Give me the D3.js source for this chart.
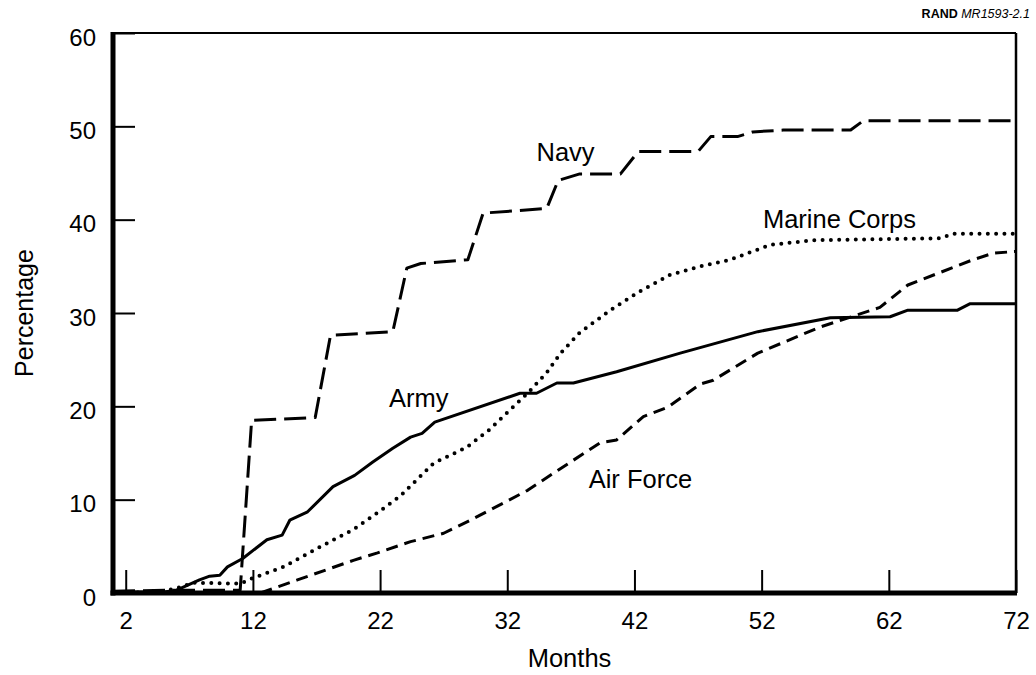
<!DOCTYPE html>
<html>
<head>
<meta charset="utf-8">
<script src="https://cdn.jsdelivr.net/npm/d3@7"></script>
<style>
  html, body { margin: 0; padding: 0; background: #fff; }
  svg { display: block; }
  text { font-family: "Liberation Sans", Arial, Helvetica, sans-serif; fill: #000; }
</style>
</head>
<body>
<svg id="chart" width="1036" height="675"></svg>
<script>
// Cumulative percentage by months of service, per branch: [month, percent]
const navy = [
  [1, 0.2], [6, 0.3], [11.0, 0.3], [11.9, 18.5], [16.9, 18.8], [18.1, 27.6],
  [23.0, 28.0], [24.1, 34.8], [25.2, 35.3], [28.9, 35.7], [30.1, 40.7],
  [35.1, 41.2], [36.0, 44.2], [37.7, 44.9], [40.9, 44.9], [42.3, 47.3],
  [47.0, 47.3], [48.0, 48.9], [50.1, 48.9], [51.3, 49.4], [53.7, 49.6],
  [59.0, 49.6], [60.0, 50.6], [72, 50.6]
];
const army = [
  [1, 0.1], [5, 0.1], [6.0, 0.3], [7.8, 1.4], [8.6, 1.8], [9.4, 1.9],
  [10.0, 2.8], [11.2, 3.7], [13.1, 5.7], [14.3, 6.2], [14.9, 7.8],
  [16.3, 8.7], [18.3, 11.4], [20.0, 12.6], [21.4, 14.0], [23.0, 15.5],
  [24.4, 16.7], [25.3, 17.1], [26.3, 18.3], [33.0, 21.4], [34.3, 21.4],
  [35.9, 22.5], [37.2, 22.5], [40.6, 23.7], [45.6, 25.7], [51.7, 28.0],
  [57.4, 29.5], [62.1, 29.6], [63.5, 30.3], [67.4, 30.3], [68.4, 31.0],
  [72, 31.0]
];
const marineCorps = [
  [1, 0], [4.5, 0.1], [6, 0.5], [7.3, 1.1], [11.0, 1.0], [12.0, 1.6],
  [14.4, 2.8], [17.5, 5.1], [19.9, 6.8], [21.8, 8.6], [23.6, 10.4],
  [26.2, 13.9], [28.8, 15.6], [30.6, 17.5], [32.2, 19.6], [33.6, 21.4],
  [35.1, 23.6], [36.2, 25.7], [37.7, 27.9], [40.1, 30.3], [42.4, 32.3],
  [44.8, 34.1], [47.2, 35.0], [49.5, 35.7], [52.7, 37.3], [56.1, 37.8],
  [66.0, 38.0], [67.1, 38.5], [72, 38.5]
];
const airForce = [
  [12.6, 0], [15.5, 1.4], [19.9, 3.5], [21.8, 4.3], [24.4, 5.5], [27.0, 6.4],
  [29.1, 7.8], [33.6, 11.0], [35.6, 12.8], [39.3, 16.1], [40.6, 16.4],
  [42.7, 18.9], [44.6, 19.9], [47.2, 22.4], [48.2, 22.8], [51.7, 25.7],
  [56.6, 28.5], [61.3, 30.6], [63.5, 33.0], [68.6, 35.7], [70.2, 36.4],
  [72, 36.6]
];

const monthTicks = [2, 12, 22, 32, 42, 52, 62, 72];
const percentTicks = [0, 10, 20, 30, 40, 50, 60];

// Series label text with its anchor point in data units [month, percent]
const seriesNames = ["Navy", "Marine Corps", "Army", "Air Force"];
const labelAnchors = [[34.3, 46.3], [52.1, 39.1], [22.7, 19.9], [38.4, 11.3]];

const svg = d3.select("#chart");
const margin = { top: 33, right: 20, bottom: 82, left: 113 };
const W = 1036, H = 675;

const x = d3.scaleLinear().domain([1, 72]).range([margin.left, W - margin.right]);
const y = d3.scaleLinear().domain([0, 60]).range([H - margin.bottom, margin.top]);

// Plot frame: thin top and right edges
svg.append("line")
  .attr("x1", x(1)).attr("x2", x(72)).attr("y1", y(60)).attr("y2", y(60))
  .attr("stroke", "#000").attr("stroke-width", 2);
svg.append("line")
  .attr("x1", x(72)).attr("x2", x(72)).attr("y1", y(60)).attr("y2", y(0))
  .attr("stroke", "#000").attr("stroke-width", 2.5);

// X axis with inward ticks
const xAxis = svg.append("g")
  .attr("transform", `translate(0,${y(0)})`)
  .call(d3.axisBottom(x).tickValues(monthTicks).tickSize(-23).tickPadding(19).tickSizeOuter(0));
xAxis.select(".domain").remove();
xAxis.selectAll(".tick line").attr("stroke", "#000").attr("stroke-width", 2);
xAxis.selectAll(".tick text").attr("font-size", 24);

// Y axis with inward ticks
const yAxis = svg.append("g")
  .attr("transform", `translate(${x(1)},0)`)
  .call(d3.axisLeft(y).tickValues(percentTicks).tickSize(-22).tickPadding(17).tickSizeOuter(0));
yAxis.select(".domain").remove();
yAxis.selectAll(".tick line").attr("stroke", "#000").attr("stroke-width", 2);
yAxis.selectAll(".tick text").attr("font-size", 24).attr("dy", "0.5em");

// Heavy left and bottom axis lines
svg.append("line")
  .attr("x1", x(1)).attr("x2", x(1)).attr("y1", y(60) - 1).attr("y2", y(0) + 2.5)
  .attr("stroke", "#000").attr("stroke-width", 5);
svg.append("line")
  .attr("x1", x(1) - 2.5).attr("x2", x(72) + 1).attr("y1", y(0)).attr("y2", y(0))
  .attr("stroke", "#000").attr("stroke-width", 5);

const line = d3.line().x(d => x(d[0])).y(d => y(d[1]));

const seriesStyles = [
  { data: navy, dash: "22 8", width: 3, cap: "butt" },
  { data: marineCorps, dash: "0 8.3", width: 4, cap: "round" },
  { data: army, dash: null, width: 3, cap: "butt" },
  { data: airForce, dash: "12 7", width: 3, cap: "butt" }
];

svg.append("g").selectAll("path")
  .data(seriesStyles)
  .join("path")
  .attr("d", d => line(d.data))
  .attr("fill", "none")
  .attr("stroke", "#000")
  .attr("stroke-width", d => d.width)
  .attr("stroke-linecap", d => d.cap)
  .attr("stroke-linejoin", "round")
  .attr("stroke-dasharray", d => d.dash);

// Series labels
svg.append("g").selectAll("text")
  .data(seriesNames)
  .join("text")
  .attr("x", (d, i) => x(labelAnchors[i][0]))
  .attr("y", (d, i) => y(labelAnchors[i][1]))
  .attr("font-size", 25.5)
  .text(d => d);

// Axis titles
svg.append("text")
  .attr("x", (x(1) + x(72)) / 2 + 5)
  .attr("y", 667)
  .attr("text-anchor", "middle")
  .attr("font-size", 25.5)
  .text("Months");

svg.append("text")
  .attr("transform", `translate(33,${(y(0) + y(60)) / 2}) rotate(-90)`)
  .attr("text-anchor", "middle")
  .attr("font-size", 25)
  .text("Percentage");

// Figure identifier
const idText = svg.append("text")
  .attr("x", 1030)
  .attr("y", 18)
  .attr("text-anchor", "end")
  .attr("font-size", 12.5);
idText.append("tspan").attr("font-weight", "bold").text("RAND ");
idText.append("tspan").attr("font-style", "italic").text("MR1593-2.1");
</script>
</body>
</html>
